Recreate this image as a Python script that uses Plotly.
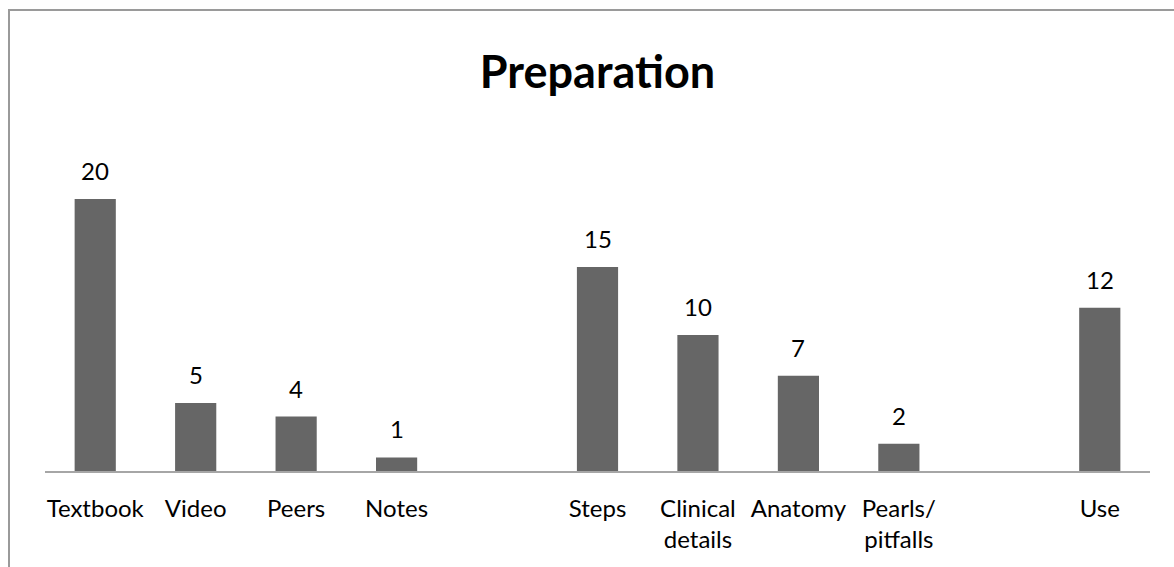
import plotly.graph_objects as go

# Survey tallies, with two empty slots separating the groups
categories = ["Textbook", "Video", "Peers", "Notes", " ",
              "Steps", "Clinical<br>details", "Anatomy", "Pearls/<br>pitfalls", "  ",
              "Use"]
counts = [20, 5, 4, 1, None, 15, 10, 7, 2, None, 12]

W, H = 1174, 567
ML, MR, MT, MB = 45, 24, 131, 96
Y_MAX = 25

fig = go.Figure(
    go.Bar(
        x=categories,
        y=counts,
        marker=dict(color="#666666", line=dict(width=0)),
        hoverinfo="skip",
    )
)

# value labels above each bar
for cat, val in zip(categories, counts):
    if val is None:
        continue
    fig.add_annotation(
        x=cat, y=val, text=str(val), showarrow=False,
        yanchor="bottom", yshift=12,
        font=dict(family="Lato", size=24, color="#000000"),
    )

# outer frame of the chart
pw, ph = W - ML - MR, H - MT - MB
fig.add_shape(
    type="rect", xref="paper", yref="paper",
    x0=(9 - ML) / pw, x1=(W + 20 - ML) / pw,
    y0=-(H + 20 - MT - ph) / ph, y1=(ph + MT - 10) / ph,
    line=dict(color="#9a9a9a", width=2), fillcolor="rgba(0,0,0,0)",
    layer="below",
)

fig.update_layout(
    width=W, height=H,
    margin=dict(l=ML, r=MR, t=MT, b=MB),
    paper_bgcolor="white", plot_bgcolor="white",
    bargap=0.59,
    showlegend=False,
    title=dict(
        text="<b>Preparation</b>",
        x=(ML + pw / 2) / W, xanchor="center",
        y=1 - 72 / H, yanchor="middle", yref="container",
        font=dict(family="Lato", size=45, color="#000000"),
    ),
    xaxis=dict(
        showgrid=False, zeroline=False,
        showline=True, linecolor="#a6a6a6", linewidth=2,
        ticks="", ticklabelstandoff=15,
        tickfont=dict(family="Lato", size=24, color="#000000"),
        fixedrange=True,
    ),
    yaxis=dict(
        range=[0, Y_MAX], visible=False, fixedrange=True,
    ),
)

fig.write_html("out.html")
